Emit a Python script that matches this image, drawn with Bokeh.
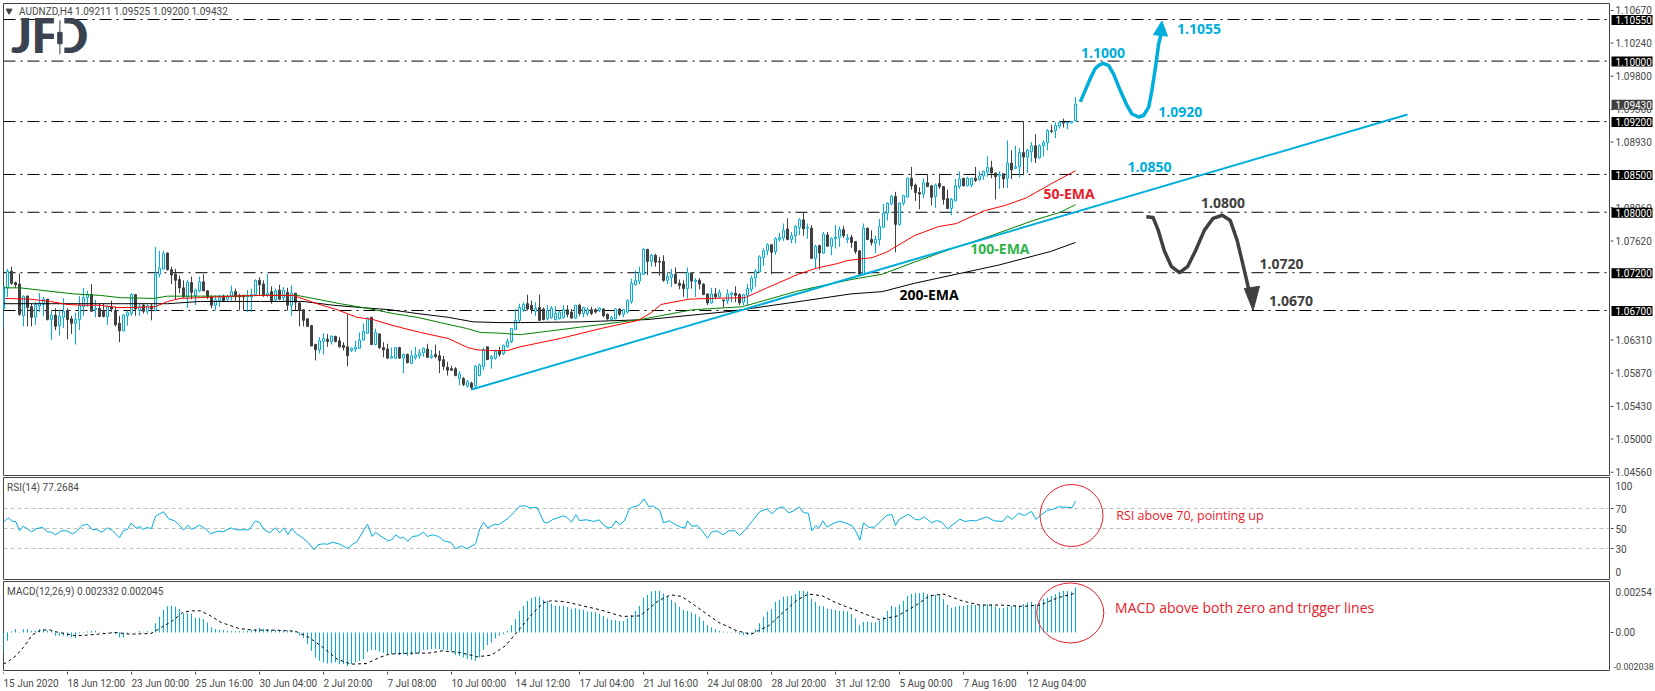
from bokeh.plotting import figure
from bokeh.layouts import column, row
from bokeh.models import Range1d, Span
from bokeh.core.properties import value
from bokeh.embed import file_html
from bokeh.resources import INLINE
from bokeh.models import ColumnDataSource

# ---------- DATA (prices in 1/10000) ----------
opens = [10672,10700,10722,10707,10705,10663,10689,10675,10661,10676,
10678,10685,10658,10664,10650,10661,10670,10659,10653,10658,
10675,10687,10691,10671,10673,10670,10662,10675,10670,10653,
10643,10663,10666,10691,10670,10677,10669,10676,10670,10718,
10725,10746,10724,10718,10711,10700,10688,10707,10690,10696,
10708,10696,10688,10677,10683,10689,10685,10688,10695,10690,
10690,10688,10688,10691,10710,10705,10690,10695,10684,10697,
10687,10694,10677,10693,10680,10671,10659,10650,10625,10618,
10629,10632,10629,10636,10630,10624,10622,10617,10619,10620,
10631,10640,10661,10625,10639,10621,10619,10607,10607,10621,
10607,10612,10600,10608,10610,10614,10619,10608,10612,10610,
10605,10595,10593,10593,10580,10580,10570,10574,10570,10584,
10596,10622,10606,10607,10617,10613,10622,10629,10645,10657,
10671,10679,10677,10669,10674,10672,10659,10661,10658,10659,
10661,10671,10668,10660,10677,10666,10666,10671,10671,10670,
10672,10665,10658,10659,10672,10665,10668,10682,10704,10709,
10718,10751,10735,10743,10735,10735,10710,10714,10718,10706,
10705,10699,10720,10708,10710,10705,10692,10680,10692,10688,
10684,10683,10691,10693,10691,10681,10690,10698,10713,10721,
10740,10749,10757,10748,10764,10766,10778,10764,10769,10780,
10790,10779,10779,10739,10756,10746,10770,10755,10765,10767,
10777,10764,10767,10761,10749,10718,10779,10764,10759,10764,
10780,10799,10811,10821,10784,10812,10820,10845,10836,10826,
10824,10839,10835,10821,10838,10834,10818,10805,10815,10834,
10845,10835,10836,10845,10843,10848,10853,10859,10852,10848,
10851,10845,10865,10858,10860,10879,10873,10880,10888,10872,
10888,10892,10908,10908,10914,10919,10918,10918,10921]
highs = [10703,10725,10728,10708,10719,10690,10690,10679,10681,10693,
10688,10685,10670,10673,10671,10686,10673,10663,10667,10689,
10700,10696,10705,10684,10679,10679,10677,10683,10675,10663,
10665,10670,10693,10692,10679,10679,10678,10679,10754,10749,
10749,10747,10728,10725,10716,10710,10710,10715,10699,10715,
10718,10697,10690,10690,10691,10691,10691,10703,10699,10692,
10691,10697,10699,10711,10714,10710,10718,10702,10699,10704,
10701,10700,10703,10693,10681,10672,10660,10651,10626,10635,
10640,10639,10637,10636,10635,10628,10665,10621,10630,10641,
10653,10661,10661,10646,10640,10628,10626,10621,10622,10622,
10613,10613,10617,10622,10619,10621,10626,10618,10625,10617,
10610,10602,10597,10595,10590,10582,10578,10576,10598,10600,
10621,10622,10611,10618,10622,10625,10633,10647,10672,10679,
10681,10691,10683,10681,10691,10674,10677,10676,10676,10670,
10677,10677,10672,10677,10679,10675,10674,10675,10673,10674,
10673,10666,10663,10673,10673,10672,10685,10712,10723,10728,
10753,10751,10745,10745,10741,10743,10721,10725,10727,10711,
10710,10727,10720,10713,10713,10706,10692,10700,10700,10698,
10684,10698,10695,10702,10693,10692,10705,10716,10725,10743,
10752,10759,10757,10767,10773,10785,10792,10774,10783,10792,
10799,10785,10783,10757,10757,10774,10774,10767,10783,10781,
10782,10771,10770,10762,10750,10785,10779,10776,10769,10791,
10811,10813,10823,10827,10813,10823,10846,10860,10838,10833,
10845,10850,10836,10838,10851,10834,10830,10819,10844,10854,
10845,10847,10845,10860,10854,10855,10874,10868,10852,10854,
10851,10895,10882,10888,10885,10920,10884,10893,10903,10890,
10895,10910,10916,10919,10921,10924,10919,10920,10952]
lows = [10647,10688,10704,10700,10663,10649,10649,10649,10651,10668,
10663,10657,10631,10644,10637,10647,10632,10639,10625,10644,
10663,10675,10669,10661,10661,10661,10651,10668,10649,10628,
10643,10650,10663,10663,10663,10666,10665,10657,10669,10714,
10724,10723,10705,10685,10693,10687,10673,10685,10677,10694,
10696,10685,10673,10670,10675,10681,10683,10683,10683,10670,
10670,10668,10668,10690,10690,10688,10688,10679,10682,10684,
10683,10670,10663,10670,10649,10649,10648,10623,10604,10613,
10612,10622,10625,10628,10621,10617,10596,10615,10615,10619,
10630,10639,10624,10624,10619,10608,10606,10606,10606,10606,
10587,10600,10600,10605,10606,10609,10607,10606,10607,10587,
10591,10584,10590,10583,10571,10570,10568,10565,10566,10583,
10591,10605,10593,10605,10609,10611,10621,10627,10644,10655,
10668,10670,10666,10663,10656,10657,10657,10659,10657,10658,
10659,10661,10659,10659,10663,10661,10663,10664,10666,10668,
10661,10657,10657,10658,10663,10661,10666,10679,10703,10705,
10717,10717,10728,10728,10716,10708,10705,10701,10705,10698,
10688,10686,10699,10688,10698,10691,10677,10679,10685,10687,
10674,10679,10681,10681,10677,10677,10677,10694,10701,10721,
10729,10743,10718,10744,10761,10762,10763,10759,10759,10770,
10769,10765,10738,10725,10724,10745,10755,10743,10752,10754,
10766,10759,10753,10745,10716,10716,10763,10756,10746,10756,
10779,10789,10809,10747,10782,10809,10819,10830,10815,10804,
10819,10833,10809,10806,10831,10810,10804,10796,10815,10831,
10834,10834,10833,10840,10842,10843,10847,10845,10817,10831,
10832,10832,10844,10857,10846,10849,10852,10866,10865,10871,
10874,10882,10905,10898,10911,10912,10910,10918,10920]
closes = [10702,10722,10706,10704,10665,10689,10674,10661,10678,10680,
10685,10658,10664,10649,10662,10669,10658,10653,10658,10677,
10687,10691,10669,10673,10662,10662,10675,10672,10651,10643,
10664,10667,10691,10672,10675,10669,10676,10672,10718,10726,
10745,10724,10717,10710,10700,10688,10707,10694,10697,10708,
10696,10688,10677,10684,10687,10683,10688,10695,10688,10688,
10688,10690,10691,10710,10704,10690,10693,10683,10696,10685,
10697,10677,10693,10681,10670,10657,10649,10623,10618,10630,
10633,10629,10636,10629,10622,10621,10610,10620,10621,10631,
10642,10660,10625,10641,10621,10618,10607,10609,10621,10607,
10612,10601,10610,10611,10614,10620,10608,10610,10609,10604,
10596,10591,10591,10584,10586,10572,10576,10568,10596,10598,
10618,10605,10609,10616,10612,10624,10629,10646,10657,10674,
10678,10672,10671,10673,10657,10658,10670,10673,10666,10668,
10671,10665,10660,10677,10666,10674,10671,10666,10668,10673,
10663,10659,10661,10672,10665,10671,10683,10706,10710,10720,
10751,10735,10743,10734,10734,10710,10715,10718,10706,10703,
10699,10720,10709,10710,10705,10691,10680,10692,10688,10694,
10683,10692,10693,10690,10680,10691,10699,10713,10722,10741,
10749,10757,10747,10765,10767,10776,10764,10769,10781,10790,
10778,10780,10739,10755,10746,10771,10755,10765,10767,10777,
10769,10766,10760,10748,10718,10779,10764,10760,10764,10781,
10799,10812,10821,10784,10812,10822,10845,10835,10826,10824,
10839,10834,10820,10836,10834,10817,10805,10817,10835,10844,
10835,10845,10845,10842,10848,10854,10859,10852,10847,10850,
10844,10865,10856,10860,10879,10873,10882,10888,10872,10888,
10892,10908,10907,10915,10919,10918,10919,10920,10943]

ema50_bar = [0.4,6.7,11.7,15.9,19.9,24,28.4,32.4,37.9,41,44.2,49.2,57.4,64.2,72.4,78.4,83.4,88.4,92.4,97.4,104.2,111.2,116,118.4,121.7,126,129.2,139.2,149.2,158.7,161.9,164.4,171.4,176.7,185.4,190.9,198.7,203.2,208.4,210.9,217.2,220.7,227.7,233.7,238.2,245.2,250.4,255.7,261.7,268]
ema50 = [10686,10685,10682,10678,10677,10677,10674,10674,10675,10682,10686,10687,10689,10690,10690,10679,10671,10661,10658,10650,10641,10633,10621,10618,10617,10617,10622,10633,10646,10657,10667,10678,10685,10686,10687,10700,10718,10726,10732,10736,10740,10747,10769,10781,10785,10802,10809,10819,10837,10855]
ema100_bar = [0,4.2,7.4,12.4,17.4,24.2,29.2,37.4,41,49.2,59.2,64.2,73.4,77.4,84.2,90.9,97.4,103.4,109.2,116,119.2,124.2,129.2,144.2,159.2,170.2,172.4,184.7,198.7,211.9,219.7,227.7,237.2,246.9,257.4,264.2,268]
ema100 = [10700,10700,10698,10695,10692,10690,10687,10686,10689,10689,10689,10690,10690,10686,10679,10673,10666,10661,10654,10646,10641,10640,10638,10648,10658,10669,10671,10675,10696,10711,10718,10734,10752,10769,10789,10800,10810]
ema200_bar = [0,41,49.2,64.2,74.9,82.4,89.2,96.7,103.4,111.2,117.4,124.2,129.2,144.2,160.9,181.9,200.4,211.9,219.7,227.7,238.2,248.7,261.7,268]
ema200 = [10679,10679,10682,10682,10682,10677,10674,10671,10666,10661,10655,10654,10654,10655,10658,10669,10683,10692,10695,10706,10718,10730,10748,10760]

levels = [11055,11000,10920,10850,10800,10720,10670]
trend_bar = [117,351]
trend_price = [10565.5,10929.3]

up_bar = [269.2,270.4,271.7,272.9,274,275,276.3,277.5,279.2,280.9,282.1,283.8,285,286.3,287.1,288,288.8,289.6]
up_price = [10946,10961,10977,10990,10995,10997,10994,10983,10961,10941,10930,10926,10928,10939,10961,10992,11023,11040]
up_head_bar = [289.6,287.5,291]
up_head_price = [11053,11035,11033]
dn_bar = [285.7,287.4,288.7,290.2,292,294,296,298,300.2,302.4,304.7,306.7,308.4,309.9,311.4]
dn_price = [10794,10793,10776,10749,10728,10720,10728,10749,10776,10792,10796,10789,10763,10730,10696]
dn_head_bar = [312.4,310.2,314]
dn_head_price = [10670,10699,10702]

rsi_bar = [0,1.1,2.2,3.1,4,4.9,6,7,8.2,9.7,11,12,13,14.5,15.8,17.2,18.2,19.6,21,22.2,23.3,24.6,26,27.2,29,30,31,31.9,33.2,34.1,35,35.8,37,38,40,41.3,42.8,43.9,45,46.1,47,49,50.5,51.8,53.6,55,56.9,58.1,61.4,63,64.1,65.1,66.5,68,69,70.2,71.1,72,73.3,74.8,76.2,77.7,78.6,79.9,81,82.3,84.1,86,87.6,88.2,91,92.2,93,94.1,96.1,97.2,98,99.2,100,101.1,102.2,103.6,105,106,107.2,108.8,110.1,111.9,113,114.5,115.8,118,119.1,120,121,122.9,123.7,126,127.7,129,130.3,131.6,133.4,135.1,136,137.3,140,140.9,142,143.1,144,145.8,147.6,148.9,150.1,151.2,152,153.1,154,155.2,156.5,157.4,158.8,160.1,161.4,162.3,164.1,165,166.5,168,169.5,170.4,171,172.1,173.5,174.6,176,177,178.4,179.9,181.3,182.9,184,185.5,187.3,189.1,190.9,192.1,193.6,194.9,196.3,197.6,198.9,200.1,201.2,202.1,203.1,203.8,204.9,205.9,207.4,209,210.5,212.3,213.2,214.1,215,216.3,217.7,219.5,220.8,222.1,223,223.9,226.2,228,229,230.2,232,233.3,234.6,236,239.1,240.4,241.8,243.1,245.8,247.6,249.8,251,252.1,253.8,255.2,257,258.1,259.2,261,262.3,263.7,267.2,268]
rsi = [56.3,60.7,57.3,56.7,47.7,52.3,49.7,46.7,49.7,51.3,46.7,46.3,43.7,47.7,47.7,44.7,46.7,53,54.3,49,49,46.3,50.7,48,40.7,48,49,55.3,50.3,52,49,51,50,62.3,66.7,59.7,57.7,53.7,48.3,53.3,49,53.3,49.7,44.7,47.3,47,50.7,48.7,48.7,57.7,55.7,49,45.7,50.7,45.7,50.7,43.7,49.7,44.7,40.7,35.7,28.7,33.7,34.7,34.3,36.3,34.3,30,35.3,36,54.3,42,46.3,43,37.7,39,43.7,40.3,41.3,37.3,42,42.7,46.3,42,43.7,42,37.7,36,29.7,32.7,29.7,34.7,49.7,56.3,50.7,54.3,53.7,59.7,66.3,72.3,72.7,70.7,71,56.3,55.7,59,62.7,61,56.3,63.7,58,58.7,57,58.7,53,50.7,51,57.7,53.7,57.7,69.7,71.7,73,79.7,71.7,72.7,68,55.7,57.7,53.7,51,50.7,57.7,52.3,53,48,40.3,46.3,47.7,43.7,47.7,47.7,43,49,58,67,69.7,64.7,70.3,71.7,65.7,67.7,71.7,65.7,65.3,47.7,53,50.3,57.7,51.3,55,57.3,55.7,52.3,46.3,38.3,55.7,51.3,51.3,58,63,64,53,59,64.3,59,58.7,61.7,55.7,58,56.3,49.7,59.3,57,58,57.7,61.7,57.7,57,62.7,59,65.3,63,67,59,63,68.3,69,71.7,71,77.3]
rsi_levels = [70,50,30]

macd_hist = [-10.4,-4.3,.5,1.7,.3,1.7,1.7,.9,.9,1.7,1.7,.9,.9,-1.7,-1.7,-1.7,-2.1,-2.6,-2.9,-.5,
-.3,.5,.9,.9,.3,.3,.2,.3,-.9,-2.6,-2.6,-.3,.2,.2,.7,.3,.7,.3,4.7,8.1,
11.7,13.5,13.8,13.3,12.1,10,10,9.7,7.6,7.6,6.9,5.2,2.6,1.7,1.4,1.2,.9,.7,.7,.7,
.5,.9,1.2,1.7,2.4,1.9,1.7,1.4,1.2,1,1,.9,.7,.7,-1.7,-2.9,-6,-9.5,-13,-14.7,
-15.5,-16.1,-15.9,-15.5,-16.4,-16.4,-17.3,-16.4,-15.5,-14.7,-13.8,-10,-9,-9.2,-10,-10.7,-11.2,-11.2,-11.2,-11.7,
-11.2,-12.1,-11.6,-11.2,-10.7,-9,-9,-8.6,-8.6,-8.6,-9,-9,-9.8,-11.6,-12.1,-13,-13.8,-14.3,-14.7,-13,
-9,-6.6,-5.2,-3.1,-1.7,-.9,.9,3.8,6.9,11.2,13.8,16.4,17.8,18.5,18.5,16.9,16.4,15,13.8,13.8,
13.8,13.1,12.1,12.6,12.1,11.7,10.9,10.7,10.4,9.7,8.6,7.3,6.6,6.4,6,6,7.3,9,11.2,13.8,
18,19.5,21.2,21.6,21.6,20.2,18.5,16.9,15.5,13.3,11.7,11.2,10.4,9.5,8.1,6,3.8,2.6,1.7,.9,
.5,.3,.3,.7,-.9,-1.4,-1.4,-.9,1.7,4.8,8.1,10.9,12.1,15.9,16.9,18.5,18.7,19,19.9,21.6,
21.6,21.2,17.6,15.9,13.8,13.5,12.4,12.1,11.7,11.2,11.2,10.9,9.5,7.3,3.8,5.5,5.5,5.2,5.2,6,
8.1,11.2,13.8,13.1,14.5,16.4,19,20,20.4,20.4,20.7,19.9,19.5,19.5,19.5,17.3,14.3,12.8,13.3,13.8,
13.8,14.2,14.5,14.2,14.3,14.5,14.7,14.5,13.5,12.6,12.6,13.3,13.8,13.8,13.8,14.7,15.5,15.9,14.7,15.2,
17.3,18,19,19.9,21.1,21.6,21.4,21.2,23.3]
signal_bar = [0,1.4,3.1,5.3,7.1,9.3,11.5,13.2,18,20.7,23.7,28.1,31.6,36.9,39.5,42.2,44.8,47,49.2,51.8,54.4,58.8,62.3,67.6,72.9,76.4,79.9,83.4,86.9,90.8,93.9,96.5,101.8,106.2,109.7,114.1,118.5,122,125.5,129,132.5,135.1,136.9,140.5,144,149.4,154.7,159.2,163.7,166.8,169.5,173.5,178.8,183.3,186.9,191.3,194.9,198.5,201.2,204.7,208.3,212.8,219,223.5,227.9,231.5,235.1,239.6,244,249.4,254.7,259.2,263.7,267.2,268]
signal = [-16.4,-14.7,-12.1,-6.9,-1.4,1.2,1.4,.3,-1.7,-1.4,-.9,0,-.9,-.5,2.6,6,10.4,11.2,11.2,8.6,5.2,2.1,1.2,1.2,.7,-2.6,-7.8,-13.8,-16.4,-16.1,-13,-11.2,-10.7,-10.7,-9.5,-10.4,-12.6,-11.7,-6.9,1.7,10.4,15.5,16.4,15.9,14.2,11.6,8.3,8.6,16.4,19.5,18.7,13,5.2,.9,-.9,3.5,10.4,16.9,19.9,19,15.2,11.7,6.6,8.6,13.8,19,19.9,16.4,14.2,14.2,13.5,14.2,18.1,19.9,20.4]

price_ticks = [11067,11024,10980,10936,10893,10806,10762,10631,10587,10543,10500,10456]
rsi_ticks = [70,50,30]
time_labels = ["15 Jun 2020","18 Jun 12:00","23 Jun 00:00","25 Jun 16:00","30 Jun 04:00","2 Jul 20:00","7 Jul 08:00",
               "10 Jul 00:00","14 Jul 12:00","17 Jul 04:00","21 Jul 16:00","24 Jul 08:00","28 Jul 20:00","31 Jul 12:00",
               "5 Aug 00:00","7 Aug 16:00","12 Aug 04:00"]

CYAN = "#00AEDB"; DARK = "#404040"; AXIS = "#444444"; TXT = "#484848"; RED = "#E8202A"
SMALL = "10px"; FONT = "Roboto"

x_range = Range1d(0, 401.5)
P = lambda v: [a / 10000 for a in v]
M = lambda v: [a * 1e-4 for a in v]

def panel(h, top, bottom, y0, y1, outline=AXIS):
    f = figure(width=1610, height=h, x_range=x_range, y_range=Range1d(y0, y1), output_backend="svg",
               toolbar_location=None, x_axis_location=None, y_axis_location=None,
               min_border_left=3, min_border_right=1, min_border_top=top, min_border_bottom=bottom,
               background_fill_color="white", outline_line_color=outline, outline_line_width=1)
    f.xgrid.visible = False; f.ygrid.visible = False
    return f

def tx(f, x, y, s, color=TXT, size=SMALL, style="normal", font=FONT, **kw):
    f.text([x], [y], text=[s], text_color=color, text_font=value(font), text_font_size=size,
           text_font_style=style, text_baseline="middle", text_align="left", **kw)

# ---------- main panel ----------
main = panel(476, 3, 1, 1.04517, 1.10762)
for lv in levels:
    main.add_layout(Span(location=lv / 10000, dimension="width", line_color="black", line_width=1,
                         line_dash="12 5 2 5", level="underlay"))

idx = list(range(len(opens)))
up = [k for k in idx if closes[k] >= opens[k]]; dn = [k for k in idx if closes[k] < opens[k]]
for sel, col in ((up, CYAN), (dn, DARK)):
    s = ColumnDataSource(dict(i=sel, h=[highs[k] / 10000 for k in sel], l=[lows[k] / 10000 for k in sel],
                              top=[max(opens[k], closes[k]) / 10000 for k in sel],
                              bot=[min(opens[k], closes[k]) / 10000 for k in sel]))
    main.segment("i", "l", "i", "h", source=s, line_color=col, line_width=1)
    main.vbar("i", 0.5, "bot", "top", source=s, fill_color="white" if col == CYAN else DARK, line_color=col, line_width=1)

main.line(ema200_bar, P(ema200), line_color="black", line_width=1)
main.line(ema100_bar, P(ema100), line_color="#008000", line_width=1)
main.line(ema50_bar, P(ema50), line_color="#FF0000", line_width=1)
main.line(trend_bar, P(trend_price), line_color=CYAN, line_width=2)

main.line(up_bar, P(up_price), line_color=CYAN, line_width=3.5, line_join="round")
main.patch(up_head_bar, P(up_head_price), fill_color=CYAN, line_color=CYAN)
main.line(dn_bar, P(dn_price), line_color=DARK, line_width=3.5, line_join="round")
main.patch(dn_head_bar, P(dn_head_price), fill_color=DARK, line_color=DARK)

ann_text = ["1.1055","1.1000","1.0920","1.0850","1.0800","1.0720","1.0670","50-EMA","100-EMA","200-EMA"]
ann_bar = [293.4,269.4,288.7,281,299.4,314,316.4,260,241.7,224]
ann_price = [11042,11011,10932,10860.5,10812,10731,10682,10825,10752,10691]
ann_col = [CYAN,CYAN,CYAN,CYAN,DARK,DARK,DARK,RED,"#2DB34A","black"]
for t, b, pr, col in zip(ann_text, ann_bar, ann_price, ann_col):
    tx(main, b, pr / 10000, t, color=col, size="14px", style="bold", font="Open Sans")

main.scatter([1.4], [1.10665], marker="inverted_triangle", size=6, fill_color=AXIS, line_color=AXIS)
tx(main, 3.9, 1.10660, "AUDNZD,H4  1.09211 1.09525 1.09200 1.09432")

# logo: "JF" + candle + open "D" (letters drawn twice, slightly offset, for the heavy weight)
LOGO = "#3C4350"
for dx in (0, 0.3):
    tx(main, 1.9 + dx, 1.1035, "JF", color=LOGO, size="47px", style="bold", font="Lato")
    tx(main, 12.0 + dx, 1.1035, "D", color=LOGO, size="47px", style="bold", font="Lato")
main.quad(left=[12.6], right=[15.2], bottom=[1.1005], top=[1.1059], fill_color="white", line_color=None)
main.segment([14.1], [1.1009], [14.1], [1.1054], line_color=LOGO, line_width=1)
main.vbar([14.1], 1.1, 1.1023, 1.1038, fill_color=LOGO, line_color=LOGO)

# ---------- RSI panel ----------
rp = panel(104, 1, 1, -1, 101)
for lv in rsi_levels:
    rp.add_layout(Span(location=lv, dimension="width", line_color="#C0C0C0", line_width=1, line_dash="4 3", level="underlay"))
rp.line(rsi_bar, rsi, line_color=CYAN, line_width=1)
tx(rp, 0.9, 91, "RSI(14) 77.2684")
rp.ellipse([267], [63], width=15.75, height=62, fill_color=None, line_color=RED, line_width=1)
tx(rp, 278.2, 63, "RSI above 70, pointing up", color=RED, size="12.5px", font="Open Sans")

# ---------- MACD panel ----------
mp = panel(91, 1, 1, -19.7e-4, 26.4e-4)
mp.segment(idx, [0] * len(idx), idx, M(macd_hist), line_color=CYAN, line_width=1)
mp.line(signal_bar, M(signal), line_color="black", line_width=1, line_dash="3 3")
tx(mp, 0.9, 21.4e-4, "MACD(12,26,9) 0.002332 0.002045")
mp.ellipse([266.7], [10.1e-4], width=16.75, height=31.1e-4, fill_color=None, line_color=RED, line_width=1)
tx(mp, 277.9, 13e-4, "MACD above both zero and trigger lines", color=RED, size="14px", font="Open Sans")

# ---------- time scale strip ----------
ts = panel(20, 0, 0, 0, 1, outline=None)
tick_x = [k * 16 for k in range(len(time_labels))]
ts.segment(tick_x, [1] * len(tick_x), tick_x, [0.85] * len(tick_x), line_color=AXIS, line_width=1)
ts.text(tick_x, [0.42] * len(tick_x), text=time_labels, text_color=TXT, text_font=value(FONT), text_font_size=SMALL,
        text_baseline="middle", text_align="left")

# ---------- value scale strip (same linear scales as the panels, over the whole page height) ----------
sc = figure(width=45, height=691, x_range=Range1d(1610, 1655), y_range=Range1d(1.01659, 1.10802),
            output_backend="svg", toolbar_location=None, x_axis_location=None, y_axis_location=None,
            min_border_left=0, min_border_right=0, min_border_top=0, min_border_bottom=0, outline_line_color=None)
sc.xgrid.visible = False; sc.ygrid.visible = False
sc.extra_y_ranges = {"rsi": Range1d(-113, 578), "macd": Range1d(-0.003057, 0.032746)}

sc.segment([1610] * len(price_ticks), P(price_ticks), [1613] * len(price_ticks), P(price_ticks), line_color=AXIS)
sc.text([1615] * len(price_ticks), P(price_ticks), text=[f"{t/10000:.5f}" for t in price_ticks], text_color=TXT,
        text_font=value(FONT), text_font_size=SMALL, text_baseline="middle", text_align="left")
TAG = 5 / 7558
tag_vals = [lv / 10000 - TAG / 10 for lv in levels] + [closes[-1] / 10000 - TAG / 10]
tag_cols = ["black"] * len(levels) + [DARK]
sc.quad(left=[1611] * len(tag_vals), right=[1652] * len(tag_vals), bottom=[v - TAG for v in tag_vals],
        top=[v + TAG for v in tag_vals], fill_color=tag_cols, line_color=None)
sc.text([1615] * len(tag_vals), tag_vals, text=[f"{v/10000:.5f}" for v in levels + [closes[-1]]], text_color="white",
        text_font=value(FONT), text_font_size=SMALL, text_baseline="middle", text_align="left")

sc.segment([1610] * len(rsi_ticks), rsi_ticks, [1613] * len(rsi_ticks), rsi_ticks, line_color=AXIS, y_range_name="rsi")
sc.text([1615] * 5, [93, 70, 50, 30, 7], text=["100", "70", "50", "30", "0"], text_color=TXT, text_font=value(FONT),
        text_font_size=SMALL, text_baseline="middle", text_align="left", y_range_name="rsi")
sc.segment([1610], [0], [1613], [0], line_color=AXIS, y_range_name="macd")
sc.text([1615] * 2, [21.2e-4, 0], text=["0.00254", "0.00"], text_color=TXT, text_font=value(FONT),
        text_font_size=SMALL, text_baseline="middle", text_align="left", y_range_name="macd")
sc.text([1613], [-17.6e-4], text=["-0.002038"], text_color=TXT, text_font=value(FONT),
        text_font_size="9px", text_baseline="middle", text_align="left", y_range_name="macd")

page = row(column(main, rp, mp, ts, spacing=0), sc, spacing=0)
open("out.html", "w").write(file_html(page, INLINE))
